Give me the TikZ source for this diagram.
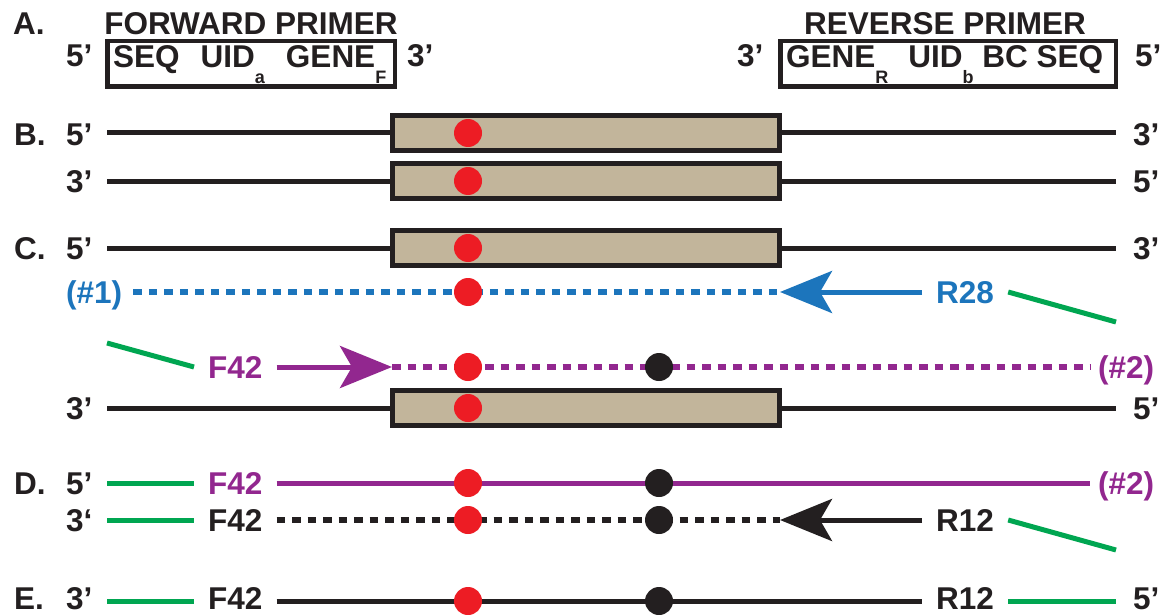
\documentclass[tikz,border=0pt]{standalone}
\usepackage{fontspec}
\setmainfont{Liberation Sans}
\usetikzlibrary{arrows.meta}
\definecolor{dnablack}{HTML}{231F20}
\definecolor{beige}{HTML}{C2B59B}
\definecolor{snpred}{HTML}{ED1C24}
\definecolor{pblue}{HTML}{1C75BC}
\definecolor{ppurple}{HTML}{92278F}
\definecolor{pgreen}{HTML}{00A651}
\newcommand{\subx}[1]{\raisebox{-16pt}{\fontsize{18pt}{18pt}\selectfont #1}}
\begin{document}
\begin{tikzpicture}[x=1pt,y=-1pt,
  lbl/.style={font=\fontsize{31.5pt}{31.5pt}\selectfont\bfseries, inner sep=0pt, text height=22.6pt, text depth=0pt, anchor=west, text=dnablack},
  primtag/.style={lbl, inner xsep=14pt},
  strand/.style={draw=dnablack, line width=5pt},
  ampbox/.style={draw=dnablack, fill=beige, line width=5pt, minimum width=387pt, minimum height=34.5pt, inner sep=0pt},
  primerbox/.style={draw=dnablack, line width=4.5pt, minimum height=45.5pt, inner sep=0pt},
  snp/.style={circle, fill=snpred, minimum size=28pt, inner sep=0pt},
  snpb/.style={circle, fill=dnablack, minimum size=28pt, inner sep=0pt},
  dashline/.style={line width=5.5pt, dash pattern=on 8.5pt off 7pt},
  tipstyle/.style={-{Stealth[length=52pt,width=42pt,inset=12pt]}, line width=5pt},
  adapter/.style={draw=pgreen, line width=5pt}
]
\fill[white] (0,0) rectangle (1175,615);
\useasboundingbox (0,0) rectangle (1175,615);

% ---------- Row A ----------
\node[lbl] (A) at (13,23) {A.};
\node[lbl, anchor=center] (fwdtitle) at (251,23) {FORWARD PRIMER};
\node[lbl, anchor=center] (revtitle) at (945,23) {REVERSE PRIMER};
\node[primerbox, minimum width=287.5pt] (fbox) at (251,64) {};
\node[lbl, anchor=base west] (ftext) at (113,67.5) {SEQ\hspace{21pt}UID\subx{a}\hspace{21pt}GENE\subx{F}};
\node[lbl] (fl5) at (66,55) {5’};
\node[lbl] (fl3) at (407,55) {3’};
\node[primerbox, minimum width=335.5pt] (rbox) at (948,64) {};
\node[lbl, anchor=base west] (rtext) at (786,67.5) {GENE\subx{R}\hspace{20pt}UID\subx{b} BC SEQ};
\node[lbl] (rl3) at (737,55) {3’};
\node[lbl] (rl5) at (1135,55) {5’};

% ---------- Row B ----------
\node[lbl] (B) at (14,134) {B.};
\node[lbl] (b1l) at (66,134) {5’};
\node[lbl] (b1r) at (1133,134) {3’};
\coordinate (b1s) at (107,133);
\coordinate (b1e) at (1116,133);
\node[ampbox] (b1box) at (586,133) {};
\draw[strand] (b1s) -- (b1box.west);
\draw[strand] (b1box.east) -- (b1e);
\node[snp] (b1d) at (468,133) {};

\node[lbl] (b2l) at (66,181) {3’};
\node[lbl] (b2r) at (1133,181) {5’};
\coordinate (b2s) at (107,181);
\coordinate (b2e) at (1116,181);
\node[ampbox] (b2box) at (586,181) {};
\draw[strand] (b2s) -- (b2box.west);
\draw[strand] (b2box.east) -- (b2e);
\node[snp] (b2d) at (468,181) {};

% ---------- Row C ----------
\node[lbl] (C) at (14,248) {C.};
\node[lbl] (c1l) at (66,248) {5’};
\node[lbl] (c1r) at (1133,248) {3’};
\coordinate (c1s) at (107,248);
\coordinate (c1e) at (1116,248);
\node[ampbox] (c1box) at (586,248) {};
\draw[strand] (c1s) -- (c1box.west);
\draw[strand] (c1box.east) -- (c1e);
\node[snp] (c1d) at (468,248) {};

% blue product (#1)
\node[lbl, text=pblue] (h1) at (66,292) {(\#1)};
\coordinate (ctip) at (780,292);
\node[primtag, text=pblue] (R28) at (922,292) {R28};
\coordinate (g1e) at (1116,322);
\draw[pblue, dashline, shorten <=11pt] (h1.east) -- (ctip);
\draw[pblue, tipstyle] (R28.west) -- (ctip);
\draw[adapter] (R28.east) -- (g1e);
\node[snp] (c2d) at (468,292) {};

% purple product (#2)
\coordinate (g2s) at (107,343);
\node[primtag, text=ppurple] (F42p) at (194,367) {F42};
\coordinate (ptip) at (392,367);
\node[lbl, text=ppurple] (h2) at (1098,367) {(\#2)};
\draw[adapter] (g2s) -- (F42p.west);
\draw[ppurple, tipstyle] (F42p.east) -- (ptip);
\draw[ppurple, dashline, shorten >=8pt] (ptip) -- (h2.west);
\node[snp] (c3d) at (468,367) {};
\node[snpb] (c3b) at (659,367) {};

\node[lbl] (c4l) at (66,408) {3’};
\node[lbl] (c4r) at (1133,408) {5’};
\coordinate (c4s) at (107,408);
\coordinate (c4e) at (1116,408);
\node[ampbox] (c4box) at (586,408) {};
\draw[strand] (c4s) -- (c4box.west);
\draw[strand] (c4box.east) -- (c4e);
\node[snp] (c4d) at (468,408) {};

% ---------- Row D ----------
\node[lbl] (D) at (14,483) {D.};
\node[lbl] (d1l) at (66,483) {5’};
\coordinate (d1s) at (107,483);
\node[primtag, text=ppurple] (F42d1) at (194,483) {F42};
\node[lbl, text=ppurple] (h2d) at (1098,483) {(\#2)};
\draw[adapter] (d1s) -- (F42d1.west);
\draw[draw=ppurple, line width=5pt, shorten >=8pt] (F42d1.east) -- (h2d.west);
\node[snp] (d1d) at (468,483) {};
\node[snpb] (d1b) at (659,483) {};

\node[lbl] (d2l) at (66,520) {3‘};
\coordinate (d2s) at (107,520);
\node[primtag] (F42d2) at (194,520) {F42};
\coordinate (dtip) at (780,520);
\node[primtag] (R12d) at (922,520) {R12};
\coordinate (g3e) at (1116,550);
\draw[adapter] (d2s) -- (F42d2.west);
\draw[dnablack, dashline] (F42d2.east) -- (dtip);
\draw[dnablack, tipstyle] (R12d.west) -- (dtip);
\draw[adapter] (R12d.east) -- (g3e);
\node[snp] (d2d) at (468,520) {};
\node[snpb] (d2b) at (659,520) {};

% ---------- Row E ----------
\node[lbl] (E) at (14,598) {E.};
\node[lbl] (el) at (66,598) {3’};
\node[lbl] (er) at (1133,598) {5’};
\coordinate (es) at (107,601);
\coordinate (ee) at (1116,601);
\node[primtag] (F42e) at (194,598) {F42};
\node[primtag] (R12e) at (922,598) {R12};
\draw[adapter] (es) -- (es -| F42e.west);
\draw[strand] (es -| F42e.east) -- (es -| R12e.west);
\draw[adapter] (es -| R12e.east) -- (ee);
\node[snp] (ed) at (468,601) {};
\node[snpb] (eb) at (659,601) {};
\end{tikzpicture}
\end{document}
